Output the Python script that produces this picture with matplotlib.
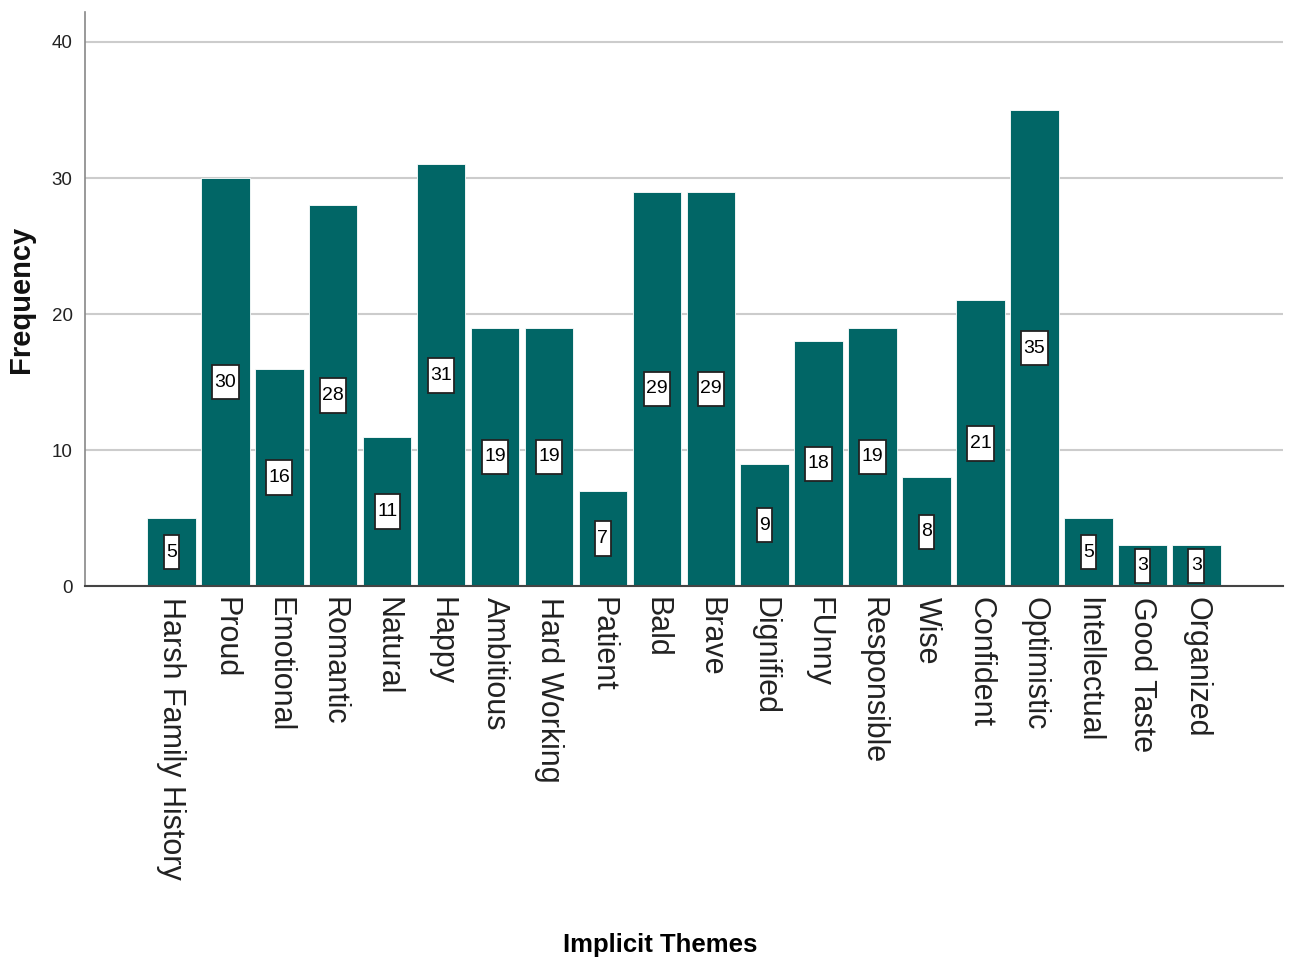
import numpy as np
import matplotlib.pyplot as plt
from matplotlib.path import Path

themes = ['Harsh Family History', 'Proud', 'Emotional', 'Romantic', 'Natural',
          'Happy', 'Ambitious', 'Hard Working', 'Patient', 'Bald', 'Brave',
          'Dignified', 'FUnny', 'Responsible', 'Wise', 'Confident', 'Optimistic',
          'Intellectual', 'Good Taste', 'Organized']
counts = [5, 30, 16, 28, 11, 31, 19, 19, 7, 29, 29, 9, 18, 19, 8, 21, 35, 5, 3, 3]
yticks = [0, 10, 20, 30, 40]

plt.rcParams['font.family'] = ['Liberation Sans', 'DejaVu Sans']


def tall_box(x0, y0, width, height, mutation_size):
    # SPSS-style label box: little side padding, more top/bottom
    px = 0.12 * mutation_size
    py = 0.45 * mutation_size
    return Path([(x0 - px, y0 - py), (x0 + width + px, y0 - py),
                 (x0 + width + px, y0 + height + py), (x0 - px, y0 + height + py),
                 (x0 - px, y0 - py)], closed=True)


fig = plt.figure(figsize=(12.89, 9.69), dpi=100)
ax = fig.add_axes([0.066, 0.395, 0.929, 0.5926])

x = np.arange(len(themes))
ax.bar(x, counts, width=0.9, color='#016666', edgecolor='white', linewidth=0.6, zorder=2)

# value labels, centred in each bar
for xi, c in zip(x, counts):
    ax.text(xi, c / 2, str(c), ha='center', va='center', fontsize=14, zorder=3,
            bbox=dict(boxstyle=tall_box, fc='white', ec='#222222', lw=1.3))

ax.set_xlim(-1.6, 20.6)
ax.set_ylim(0, 42.2)
ax.set_yticks(yticks)
ax.set_yticklabels([str(v) for v in yticks], fontsize=13.5, color='#222222')
ax.yaxis.grid(True, color='#cccccc', linewidth=1.5, zorder=0)
ax.set_axisbelow(True)

ax.set_xticks(x)
ax.set_xticklabels(themes, rotation=-90, fontsize=22, color='#222222', va='top')
ax.tick_params(axis='x', length=0, pad=8)
ax.tick_params(axis='y', length=0, pad=9)

for s in ['top', 'right']:
    ax.spines[s].set_visible(False)
ax.spines['left'].set_color('#888888')
ax.spines['left'].set_linewidth(1.2)
ax.spines['bottom'].set_color('#444444')
ax.spines['bottom'].set_linewidth(1.5)

ax.set_ylabel('Frequency', fontsize=21, fontweight='bold', color='#111111', labelpad=12)
fig.text(0.512, 0.012, 'Implicit Themes', ha='center', va='bottom', fontsize=18.5,
         fontweight='bold')

plt.savefig('out.png', dpi=100)
